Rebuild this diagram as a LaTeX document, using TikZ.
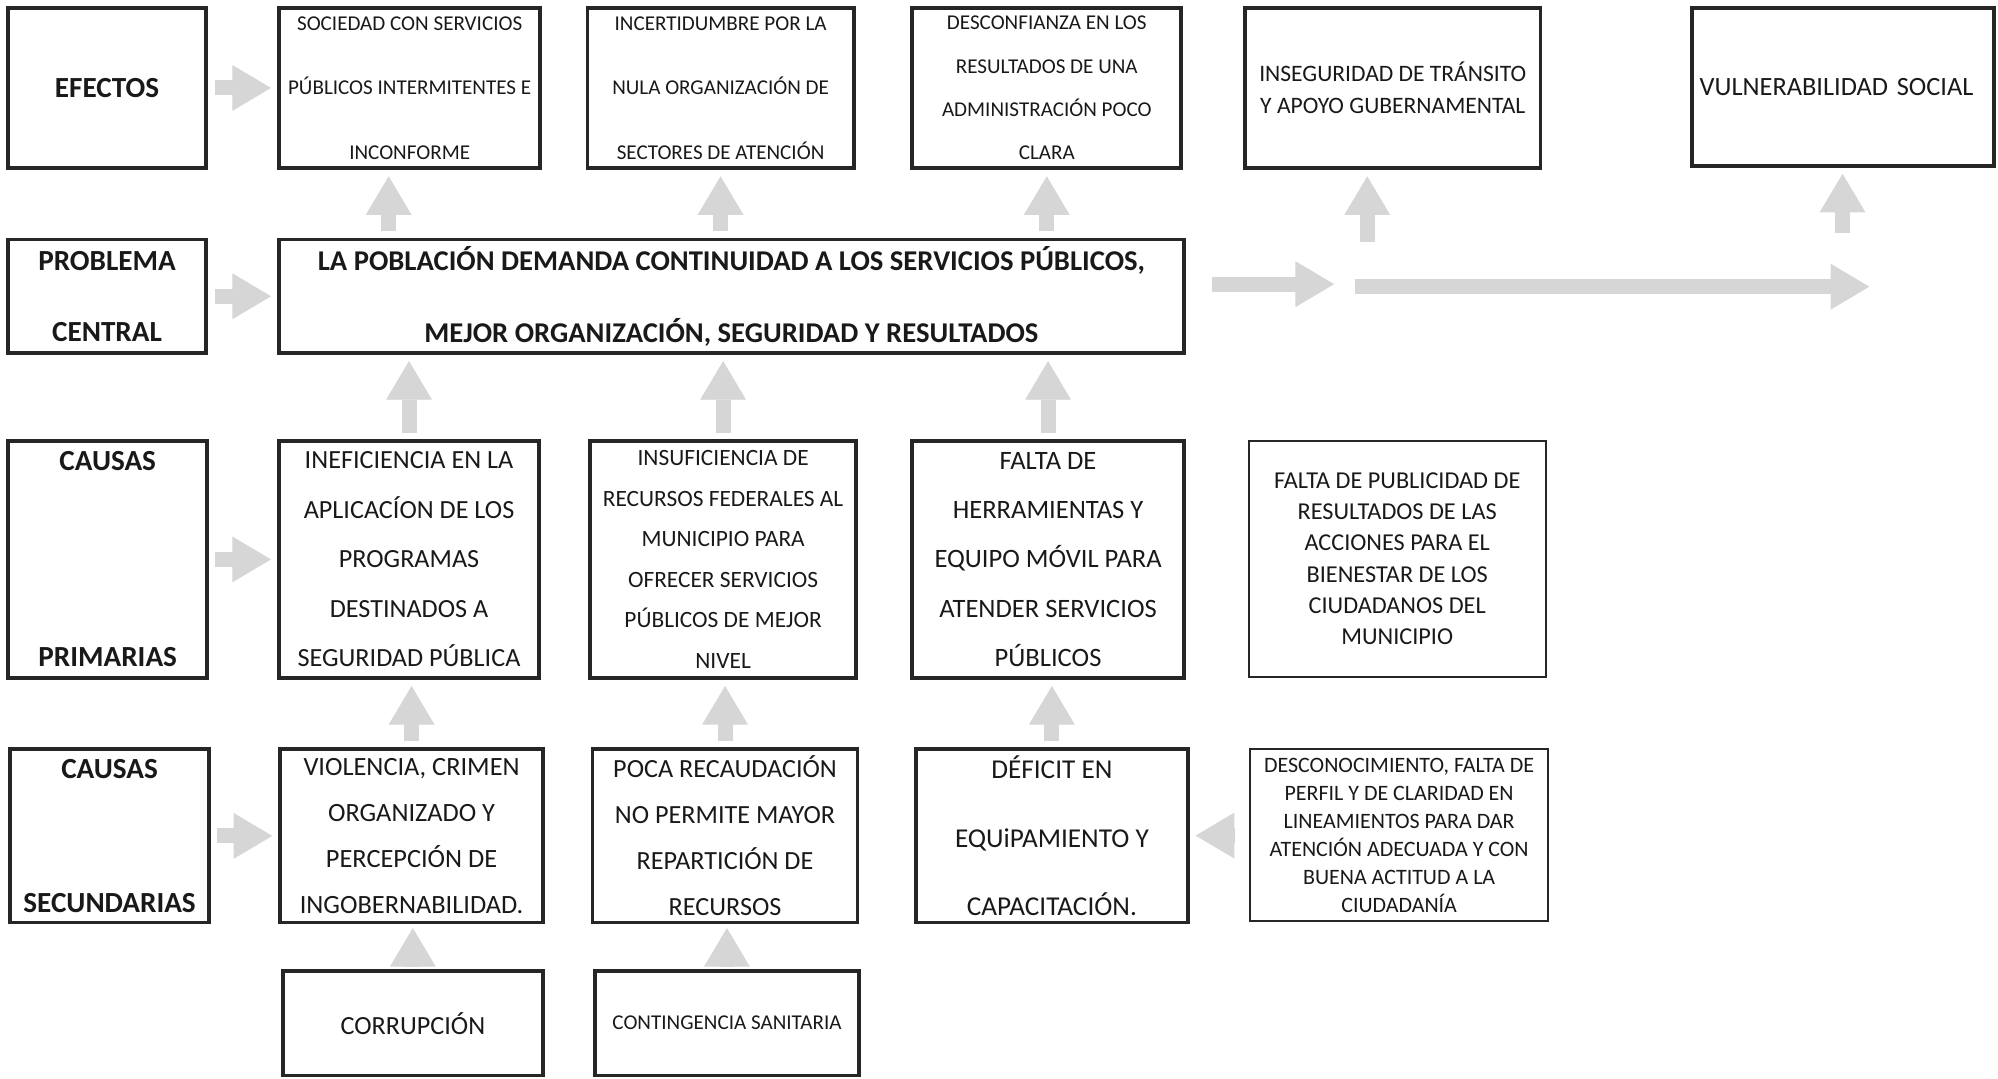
\documentclass[tikz,border=0pt]{standalone}
\usepackage{fontspec}
\setmainfont{Carlito}
\usepackage{tikz}
\usetikzlibrary{arrows.meta}

\begin{document}
\begin{tikzpicture}[x=0.02548cm, y=-0.02548cm]
\tikzstyle{caja}=[draw=black!85, line width=2.2pt, inner sep=0pt, align=center, text=black!90]
\tikzstyle{fina}=[caja, line width=1.1pt]
\tikzstyle{etiqueta}=[caja, minimum width=3.975cm]
\tikzstyle{flecha}=[draw=black!16, line width=8.5pt, -{Triangle[length=22pt, width=26pt, line width=0.5pt]}, shorten <=3.5pt, shorten >=3.5pt]
\useasboundingbox (0,0) rectangle (1568,846);

% efectos
\node[etiqueta, minimum height=3.21cm, font=\bfseries\fontsize{16.6}{19}\selectfont] (efectos) at (84,69) {EFECTOS};
\node[caja, minimum width=5.223cm, minimum height=3.21cm, font=\fontsize{12}{36.6}\selectfont] (sociedad) at (321.5,69) {SOCIEDAD CON SERVICIOS\\PÚBLICOS INTERMITENTES E\\INCONFORME};
\node[caja, minimum width=5.325cm, minimum height=3.21cm, font=\fontsize{12}{36.6}\selectfont] (incert) at (565.5,69) {INCERTIDUMBRE POR LA\\NULA ORGANIZACIÓN DE\\SECTORES DE ATENCIÓN};
\node[caja, minimum width=5.376cm, minimum height=3.21cm, font=\fontsize{12}{24.6}\selectfont] (desconf) at (821.5,69) {DESCONFIANZA EN LOS\\RESULTADOS DE UNA\\ADMINISTRACIÓN POCO\\CLARA};
\node[caja, minimum width=5.911cm, minimum height=3.21cm, font=\fontsize{13.4}{18}\selectfont] (inseg) at (1093,69) {INSEGURIDAD DE TRÁNSITO\\Y APOYO GUBERNAMENTAL};
\node[caja, align=left, text width=5.74cm, inner xsep=0.15cm, minimum height=3.16cm, font=\fontsize{15}{18}\selectfont] (vulner) at (1446.5,68) {VULNERABILIDAD SOCIAL};

% problema central
\node[etiqueta, minimum height=2.268cm, font=\bfseries\fontsize{16.6}{40.6}\selectfont] (problema) at (84,232.5) {PROBLEMA\\CENTRAL};
\node[caja, minimum width=18.09cm, minimum height=2.268cm, font=\bfseries\fontsize{16.3}{40.6}\selectfont] (central) at (574,232.5) {LA POBLACIÓN DEMANDA CONTINUIDAD A LOS SERVICIOS PÚBLICOS,\\MEJOR ORGANIZACIÓN, SEGURIDAD Y RESULTADOS};

% causas primarias
\node[etiqueta, minimum height=4.739cm, font=\bfseries\fontsize{16.6}{111.6}\selectfont] (primarias) at (84.5,439) {CAUSAS\\PRIMARIAS};
\node[caja, minimum width=5.198cm, minimum height=4.739cm, font=\fontsize{14.9}{28.2}\selectfont] (inef) at (321,439) {INEFICIENCIA EN LA\\APLICACÍON DE LOS\\PROGRAMAS\\DESTINADOS A\\SEGURIDAD PÚBLICA};
\node[caja, minimum width=5.325cm, minimum height=4.739cm, font=\fontsize{13.3}{23}\selectfont] (insuf) at (567.5,439) {INSUFICIENCIA DE\\RECURSOS FEDERALES AL\\MUNICIPIO PARA\\OFRECER SERVICIOS\\PÚBLICOS DE MEJOR\\NIVEL};
\node[caja, minimum width=5.427cm, minimum height=4.739cm, font=\fontsize{15.1}{28.1}\selectfont] (faltah) at (822.5,439) {FALTA DE\\HERRAMIENTAS Y\\EQUIPO MÓVIL PARA\\ATENDER SERVICIOS\\PÚBLICOS};
\node[fina, minimum width=5.937cm, minimum height=4.714cm, font=\fontsize{13.8}{17.8}\selectfont] (faltap) at (1096.5,438.5) {FALTA DE PUBLICIDAD DE\\RESULTADOS DE LAS\\ACCIONES PARA EL\\BIENESTAR DE LOS\\CIUDADANOS DEL\\MUNICIPIO};

% causas secundarias
\node[etiqueta, minimum height=3.465cm, font=\bfseries\fontsize{16.6}{76.1}\selectfont] (secund) at (86,656) {CAUSAS\\SECUNDARIAS};
\node[caja, minimum width=5.249cm, minimum height=3.465cm, font=\fontsize{15}{26.1}\selectfont] (violencia) at (323,656) {VIOLENCIA, CRIMEN\\ORGANIZADO Y\\PERCEPCIÓN DE\\INGOBERNABILIDAD.};
\node[caja, minimum width=5.3cm, minimum height=3.465cm, font=\fontsize{14.9}{26.1}\selectfont] (poca) at (569,656) {POCA RECAUDACIÓN\\NO PERMITE MAYOR\\REPARTICIÓN DE\\RECURSOS};
\node[caja, minimum width=5.427cm, minimum height=3.465cm, font=\fontsize{15.5}{39.1}\selectfont] (deficit) at (825.5,656) {DÉFICIT EN\\EQUiPAMIENTO Y\\CAPACITACIÓN.};
\node[fina, minimum width=5.962cm, minimum height=3.44cm, font=\fontsize{12.5}{16}\selectfont] (desconoc) at (1098,655.5) {DESCONOCIMIENTO, FALTA DE\\PERFIL Y DE CLARIDAD EN\\LINEAMIENTOS PARA DAR\\ATENCIÓN ADECUADA Y CON\\BUENA ACTITUD A LA\\CIUDADANÍA};

% ultima fila
\node[caja, minimum width=5.198cm, minimum height=2.089cm, font=\fontsize{14.9}{17}\selectfont] (corrup) at (324,803) {CORRUPCIÓN};
\node[caja, minimum width=5.274cm, minimum height=2.089cm, font=\fontsize{12}{15}\selectfont] (conting) at (570.5,803) {CONTINGENCIA SANITARIA};

% flechas
\draw[flecha] (efectos) -- (sociedad);
\draw[flecha] (problema) -- (central);
\draw[flecha] (primarias) -- (inef);
\draw[flecha] (secund) -- (violencia);

\coordinate (s1) at ([xshift=-0.42cm]sociedad.south);
\draw[flecha] (s1 |- central.north) -- (s1);
\draw[flecha] (incert.south |- central.north) -- (incert.south);
\draw[flecha] (desconf.south |- central.north) -- (desconf.south);

\draw[flecha] (inef.north) -- (inef.north |- central.south);
\draw[flecha] (insuf.north) -- (insuf.north |- central.south);
\draw[flecha] (faltah.north) -- (faltah.north |- central.south);

\draw[flecha] (violencia.north) -- (violencia.north |- inef.south);
\draw[flecha] (poca.north) -- (poca.north |- insuf.south);
\draw[flecha] (deficit.north) -- (deficit.north |- faltah.south);

\draw[flecha, shorten <=2pt, shorten >=2pt] (corrup.north) -- (corrup.north |- violencia.south);
\draw[flecha, shorten <=2pt, shorten >=2pt] (conting.north) -- (conting.north |- poca.south);
\draw[flecha, shorten <=8pt] (desconoc) -- (deficit);

\coordinate (d1) at (1047,223);
\coordinate (d2) at (1063,225);
\coordinate (d3) at (1467,225);
\coordinate (u1) at (1073,190);
\coordinate (u2) at (1446,183);
\draw[flecha, shorten <=15pt, shorten >=0pt] (central.east |- d1) -- (d1);
\draw[flecha, shorten <=0pt, shorten >=0pt] (d2) -- (d3);
\draw[flecha, shorten <=0pt] (u1) -- (u1 |- inseg.south);
\draw[flecha, shorten <=0pt] (u2) -- (u2 |- vulner.south);
\end{tikzpicture}
\end{document}
